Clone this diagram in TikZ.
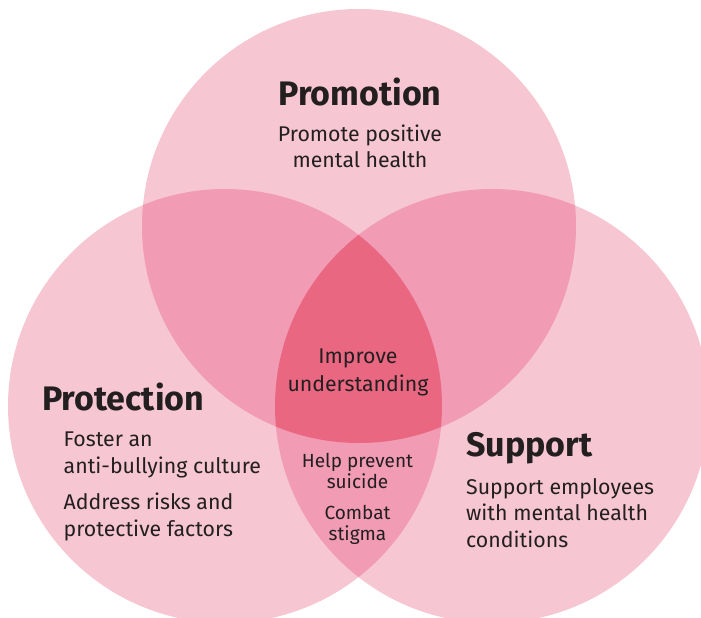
\documentclass[tikz,border=0pt]{standalone}
\usepackage{fontspec}
\setmainfont{Fira Sans}
\definecolor{cone}{HTML}{F6C6D2}
\definecolor{ctwo}{HTML}{F19BB5}
\definecolor{cthree}{HTML}{EA6782}
\definecolor{txt}{HTML}{231F20}
\begin{document}
\begin{tikzpicture}[x=1pt,y=-1pt,
  title/.style={anchor=base west,inner sep=0pt,text=txt,font=\fontsize{34}{36}\selectfont\bfseries},
  body/.style={anchor=base west,inner sep=0pt,text=txt,align=left,font=\fontsize{21.3}{26.5}\selectfont},
  mid/.style={anchor=base,inner sep=0pt,text=txt,align=center,font=\fontsize{19}{21}\selectfont}]
\useasboundingbox (0,0) rectangle (701,618);
\coordinate (T) at (359,226);
\coordinate (L) at (225,406);
\coordinate (R) at (492,406);
\fill[cone] (T) circle[radius=217];
\fill[cone] (L) circle[radius=217];
\fill[cone] (R) circle[radius=217];
\begin{scope}
  \clip (T) circle[radius=217];
  \fill[ctwo] (L) circle[radius=217];
  \fill[ctwo] (R) circle[radius=217];
\end{scope}
\begin{scope}
  \clip (L) circle[radius=217];
  \fill[ctwo] (R) circle[radius=217];
\end{scope}
\begin{scope}
  \clip (T) circle[radius=217];
  \clip (L) circle[radius=217];
  \fill[cthree] (R) circle[radius=217];
\end{scope}
% Promotion
\node[title,anchor=base] (promo) at (360,105) {Promotion};
\node[body,anchor=base,align=center,font=\fontsize{21.3}{26}\selectfont] (promotxt) at (360,167.7) {Promote positive\\mental health};
% Protection
\node[title] (prot) at (42,410) {Protection};
\node[body] (prottxt1) at (63.5,473) {Foster an\\anti-bullying culture};
\node[body] (prottxt2) at (63.5,536) {Address risks and\\protective factors};
% Support
\node[title] (supp) at (466,456.7) {Support};
\node[body] (supptxt) at (466,547) {Support employees\\with mental health\\conditions};
% Centre
\node[mid,font=\fontsize{21.3}{28}\selectfont] (improve) at (358,391) {Improve\\understanding};
\node[mid] (help) at (357.5,488) {Help prevent\\suicide};
\node[mid] (combat) at (357.5,540) {Combat\\stigma};
\end{tikzpicture}
\end{document}
